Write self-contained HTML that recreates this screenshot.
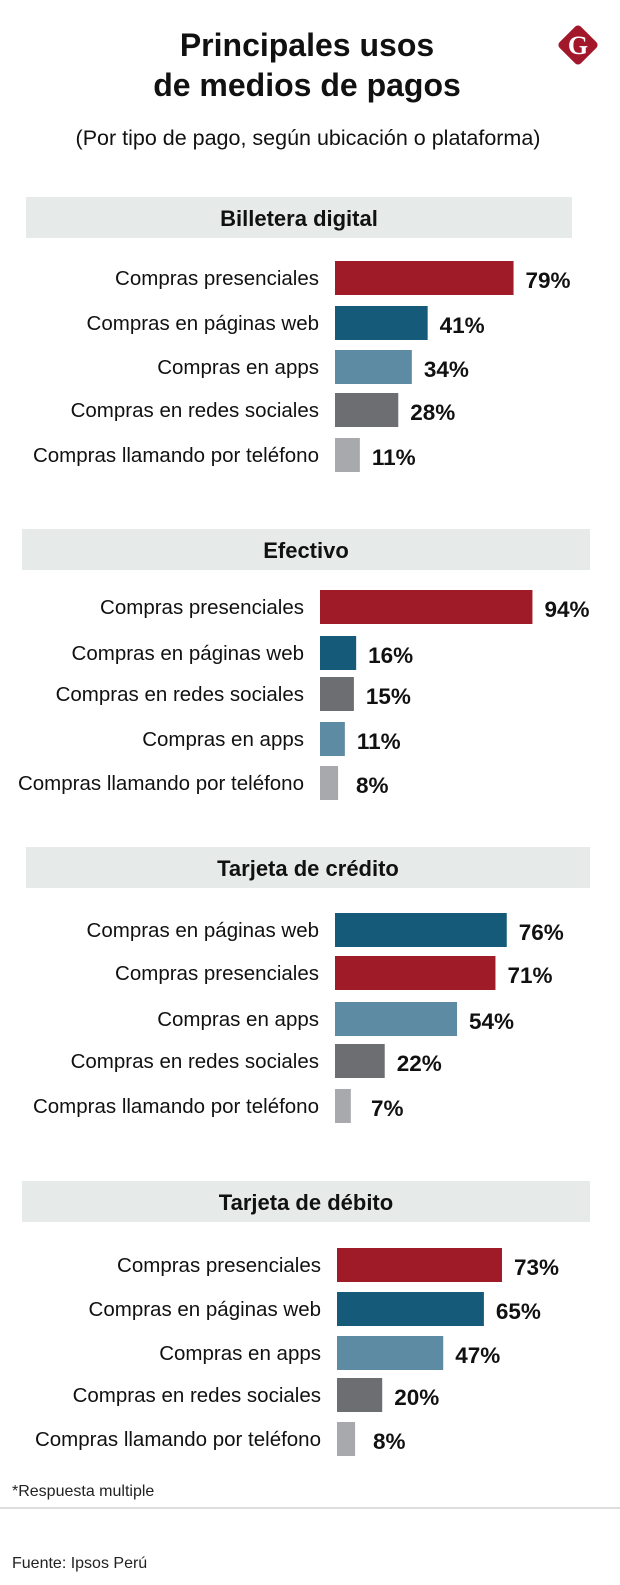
<!DOCTYPE html>
<html><head><meta charset="utf-8"><style>
html,body{margin:0;padding:0;background:#fff;}
svg{display:block;font-family:"Liberation Sans",sans-serif;}
</style></head><body>
<svg id="chart" width="620" height="1585" viewBox="0 0 620 1585">
<text x="307" y="56" text-anchor="middle" font-size="32" font-weight="bold" fill="#111">Principales usos</text>
<text x="307" y="96" text-anchor="middle" font-size="32" font-weight="bold" fill="#111">de medios de pagos</text>
<text x="308" y="145" text-anchor="middle" font-size="21.5" fill="#111">(Por tipo de pago, según ubicación o plataforma)</text>
<g>
<rect x="563" y="30" width="30" height="30" rx="4" fill="#a3172a" transform="rotate(45 578 45)"/>
<text x="578" y="54" text-anchor="middle" font-size="26" font-weight="bold" fill="#fff" font-family="Liberation Serif,serif">G</text>
</g>
<g id="sections"></g>
<text x="12" y="1496" font-size="16" fill="#222">*Respuesta multiple</text>
<line x1="0" y1="1508" x2="620" y2="1508" stroke="#ddd" stroke-width="2"/>
<text x="12" y="1568" font-size="16" fill="#222">Fuente: Ipsos Perú</text>
</svg>
<script>
const sectionTitles=["Billetera digital","Efectivo","Tarjeta de crédito","Tarjeta de débito"];
const cats1=["Compras presenciales","Compras en páginas web","Compras en apps","Compras en redes sociales","Compras llamando por teléfono"];
const vals1=[79,41,34,28,11];
const cats2=["Compras presenciales","Compras en páginas web","Compras en redes sociales","Compras en apps","Compras llamando por teléfono"];
const vals2=[94,16,15,11,8];
const cats3=["Compras en páginas web","Compras presenciales","Compras en apps","Compras en redes sociales","Compras llamando por teléfono"];
const vals3=[76,71,54,22,7];
const cats4=["Compras presenciales","Compras en páginas web","Compras en apps","Compras en redes sociales","Compras llamando por teléfono"];
const vals4=[73,65,47,20,8];
const colorMap={"Compras presenciales":"#9e1b27","Compras en páginas web":"#155a78","Compras en apps":"#5e8ba4","Compras en redes sociales":"#6d6e71","Compras llamando por teléfono":"#a8a9ac"};
const layout=[
 {hx:26,hw:546,hy:197,x0:335,rows:[278,323,367,410,455]},
 {hx:22,hw:568,hy:529,x0:320,rows:[607,653,694,739,783]},
 {hx:26,hw:564,hy:847,x0:335,rows:[930,973,1019,1061,1106]},
 {hx:22,hw:568,hy:1181,x0:337,rows:[1265,1309,1353,1395,1439]}
];
const allCats=[cats1,cats2,cats3,cats4];
const allVals=[vals1,vals2,vals3,vals4];
const NS="http://www.w3.org/2000/svg";
const g=document.getElementById('sections');
const scale=v=>v*2.26;
function mk(t,a,p){const e=document.createElementNS(NS,t);for(const k in a)e.setAttribute(k,a[k]);p.appendChild(e);return e;}
sectionTitles.forEach((title,i)=>{
 const L=layout[i];
 const sg=mk('g',{},g);
 
 
 const hb=mk('rect',{x:L.hx,y:L.hy,width:L.hw,height:41,fill:'#e6ebea'},sg);
 
 
 const ht=mk('text',{x:L.hx+L.hw/2,y:L.hy+29,'text-anchor':'middle','font-size':22,'font-weight':'bold',fill:'#111'},sg);
 ht.textContent=title;
 
 
 allCats[i].forEach((c,j)=>{
  const v=allVals[i][j];const cy=L.rows[j];
  const lb=mk('text',{x:L.x0-16,y:cy+7,'text-anchor':'end','font-size':20.5,fill:'#111'},sg);
  lb.textContent=c;
  
  
  const w=scale(v);
  const b=mk('rect',{x:L.x0,y:cy-17,width:w,height:34,fill:colorMap[c]},sg);
  
  
  const vt=mk('text',{x:L.x0+Math.max(w,24)+12,y:cy+10,'font-size':22.5,'font-weight':'bold',fill:'#111'},sg);
  vt.textContent=v+'%';
  
  
 });
});
</script>
</body></html>
